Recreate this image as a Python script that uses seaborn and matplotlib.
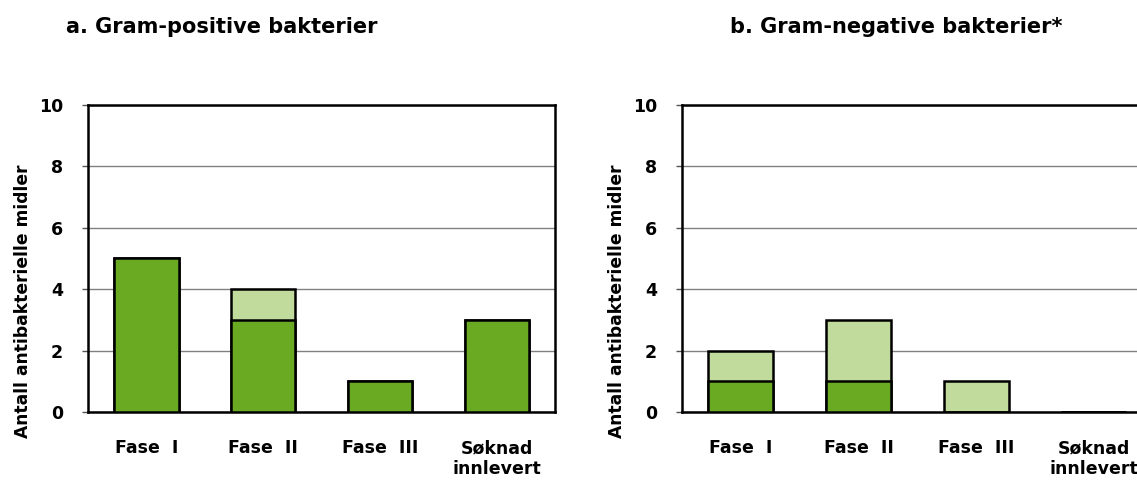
import numpy as np
import pandas as pd
import matplotlib.pyplot as plt
import seaborn as sns

sns.set_style("white")
plt.rcParams['font.family'] = ['DejaVu Sans']
plt.rcParams['font.weight'] = 'bold'
plt.rcParams['text.color'] = 'black'
plt.rcParams['xtick.color'] = 'black'
plt.rcParams['ytick.color'] = 'black'
plt.rcParams['axes.labelcolor'] = 'black'

categories = ["Fase  I", "Fase  II", "Fase  III", "Søknad\ninnlevert"]

# gram-positive
pos_dark = [5, 3, 1, 3]
pos_light = [0, 1, 0, 0]
# gram-negative
neg_dark = [1, 1, 0, 0]
neg_light = [1, 2, 1, 0]

titles = ["a. Gram-positive bakterier", "b. Gram-negative bakterier*"]
ylabel = "Antall antibakterielle midler"

dark_green = "#6aaa22"
light_green = "#c1db9d"

W = 1137
fig = plt.figure(figsize=(11.37, 4.8), dpi=100)
ax1 = fig.add_axes([0.0774, 0.1417, 0.411, 0.6396])
ax2 = fig.add_axes([0.5998, 0.1417, 0.414, 0.6396])

for ax, dark, light in [(ax1, pos_dark, pos_light), (ax2, neg_dark, neg_light)]:
    df = pd.DataFrame({"fase": categories, "dark": dark,
                       "total": np.array(dark) + np.array(light)})
    # light part drawn as total, dark part drawn on top
    sns.barplot(data=df, x="fase", y="total", order=categories, color=light_green,
                edgecolor="black", linewidth=1.8, width=0.55, saturation=1, ax=ax, zorder=3)
    sns.barplot(data=df, x="fase", y="dark", order=categories, color=dark_green,
                edgecolor="black", linewidth=1.8, width=0.55, saturation=1, ax=ax, zorder=4)
    ax.set_ylim(0, 10)
    ax.set_xlim(-0.5, 3.5)
    ax.set_yticks([0, 2, 4, 6, 8, 10])
    ax.yaxis.grid(True, color="#808080", linewidth=1)
    ax.set_axisbelow(True)
    for s in ["left", "bottom", "top", "right"]:
        ax.spines[s].set_visible(True)
        ax.spines[s].set_color("black")
        ax.spines[s].set_linewidth(1.8)
    ax.set_xlabel("")
    ax.set_ylabel(ylabel, fontsize=12.3, fontweight="bold")
    width_px = ax.get_position().width * W
    ax.yaxis.set_label_coords(-56 / width_px, 0.36)
    ax.set_xticks(range(4))
    ax.set_xticklabels(categories, fontsize=12.5, fontweight="bold")
    ax.set_xticks([-0.5, 0.5, 1.5, 2.5, 3.5], minor=True)
    ax.tick_params(axis="x", which="major", length=0, pad=19.5)
    ax.tick_params(axis="x", which="minor", length=5, width=1, color="#555555", direction="out")
    ax.tick_params(axis="y", length=4.5, width=1, color="#555555", direction="out", pad=13.5,
                   labelsize=12.5, left=True, labelcolor="black")
    for lab in ax.get_yticklabels():
        lab.set_fontweight("bold")

fig.text(0.058, 0.931, titles[0], fontsize=15, fontweight="bold", va="baseline", ha="left")
fig.text(0.642, 0.931, titles[1], fontsize=15, fontweight="bold", va="baseline", ha="left")

fig.savefig("out.png", dpi=100)
